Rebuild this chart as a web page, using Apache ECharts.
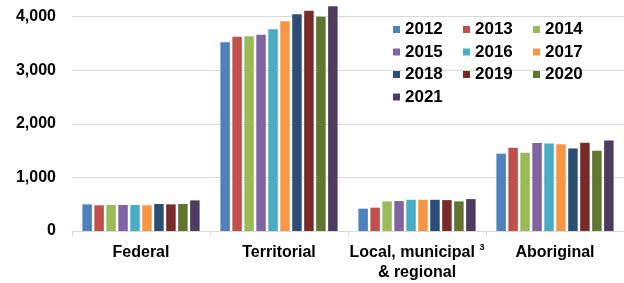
<!DOCTYPE html>
<html>
<head>
<meta charset="utf-8">
<script src="https://cdn.jsdelivr.net/npm/echarts@6/dist/echarts.min.js"></script>
<style>
    html, body { margin: 0; padding: 0; background: #fff; }
    #chart { width: 624px; height: 283px; }
</style>
</head>
<body>
<div id="chart"></div>
<script>
// categories and yearly values
var categories = ['Federal', 'Territorial', 'Local, municipal\n& regional', 'Aboriginal'];
var years = ['2012', '2013', '2014', '2015', '2016', '2017', '2018', '2019', '2020', '2021'];
var yearColors = ['#4F81BD', '#C0504D', '#9BBB59', '#8064A2', '#4BACC6',
                  '#F79646', '#2C4D75', '#772C2A', '#5F7530', '#4D3B62'];

var federal     = [497, 479, 485, 485, 485, 479, 503, 497, 503, 571];
var territorial = [3520, 3621, 3634, 3658, 3762, 3910, 4044, 4107, 3996, 4192];
var local       = [416, 435, 552, 558, 582, 582, 582, 576, 552, 595];
var aboriginal  = [1442, 1552, 1460, 1639, 1632, 1620, 1540, 1645, 1497, 1687];

var yTicks = [0, 1000, 2000, 3000, 4000];

var font = 'Liberation Sans, Arial, sans-serif';

var series = years.map(function (year, i) {
    return {
        name: year,
        type: 'bar',
        barWidth: 9.5,
        barGap: '26%',
        clip: false,
        itemStyle: { color: yearColors[i] },
        data: [federal[i], territorial[i], local[i], aboriginal[i]]
    };
});

var chart = echarts.init(document.getElementById('chart'));
chart.setOption({
    animation: false,
    grid: {
        left: 72,
        right: 0,
        top: 16.5,
        bottom: 50
    },
    legend: {
        left: 393,
        top: 21,
        padding: 0,
        width: 215,
        itemWidth: 7,
        itemHeight: 7,
        itemGap: 5.5,
        icon: 'rect',
        textStyle: {
            fontFamily: font,
            fontWeight: 'bold',
            fontSize: 17,
            color: '#000',
            width: 52.5,
            lineHeight: 17
        },
        data: years
    },
    xAxis: {
        type: 'category',
        data: categories,
        axisLine: { lineStyle: { color: '#D9D9D9' } },
        axisTick: { show: true, length: 5, lineStyle: { color: '#D9D9D9' } },
        axisLabel: {
            margin: 12,
            interval: 0,
            color: '#000',
            fontFamily: font,
            fontWeight: 'bold',
            fontSize: 16,
            lineHeight: 20,
            formatter: function (value) {
                if (value.indexOf('Local') === 0) {
                    return '{a|Local, municipal}{sup| 3}\n{a|& regional}';
                }
                return value;
            },
            rich: {
                a: {
                    fontFamily: font,
                    fontWeight: 'bold',
                    fontSize: 16,
                    lineHeight: 20,
                    color: '#000'
                },
                sup: {
                    fontFamily: font,
                    fontWeight: 'bold',
                    fontSize: 9,
                    lineHeight: 20,
                    verticalAlign: 'top',
                    color: '#000',
                    padding: [0, 0, 0, 2]
                }
            }
        }
    },
    yAxis: {
        type: 'value',
        min: yTicks[0],
        max: yTicks[yTicks.length - 1],
        interval: 1000,
        axisLine: { show: false },
        axisTick: { show: false },
        splitLine: { lineStyle: { color: '#D9D9D9' } },
        axisLabel: {
            margin: 16,
            color: '#000',
            fontFamily: font,
            fontWeight: 'bold',
            fontSize: 16,
            formatter: function (v) {
                return v.toLocaleString('en-US');
            }
        }
    },
    series: series
});
</script>
</body>
</html>
